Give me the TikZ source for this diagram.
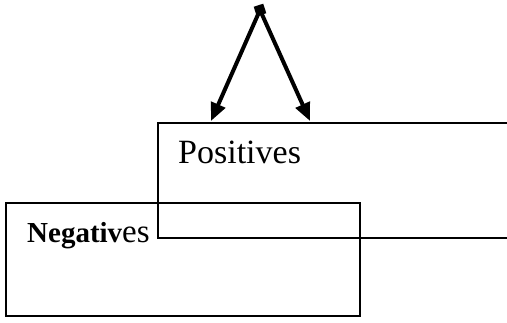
\documentclass[tikz,border=0pt]{standalone}
\usepackage{fontspec}
\setmainfont{Liberation Serif}
\usetikzlibrary{arrows.meta}
\begin{document}
\begin{tikzpicture}[x=1pt,y=-1pt,
  boxline/.style={line width=1.4pt},
  arr/.style={line width=4pt,-{Triangle[length=18pt,width=15pt]}},
  lbl/.style={anchor=base west,inner sep=0pt}]
\useasboundingbox (0,0) rectangle (507,323);
% Positives box (open to the right)
\coordinate (ptr) at (508,123);
\coordinate (ptl) at (158,123);
\coordinate (pbl) at (158,238);
\coordinate (pbr) at (508,238);
\draw[boxline] (ptr) -- (ptl) -- (pbl) -- (pbr);
% Negatives box
\coordinate (ntl) at (6,203);
\coordinate (nbr) at (360,316);
\draw[boxline] (ntl) rectangle (nbr);
% labels
\node[lbl] (pos) at (178,164) {\fontsize{34}{37}\selectfont Positives};
\node[lbl] (neg) at (27,243) {\fontsize{29}{32}\selectfont\bfseries Negativ\fontsize{33}{36}\selectfont\mdseries es};
% source square and arrows
\coordinate (srcc) at (260,10);
\coordinate (pl) at (211,121);
\coordinate (pr) at (310,121);
\draw[arr] (srcc) -- (pl);
\draw[arr] (srcc) -- (pr);
\node[fill=black,minimum size=10pt,inner sep=0pt,rotate=18] (src) at (srcc) {};
\end{tikzpicture}
\end{document}
